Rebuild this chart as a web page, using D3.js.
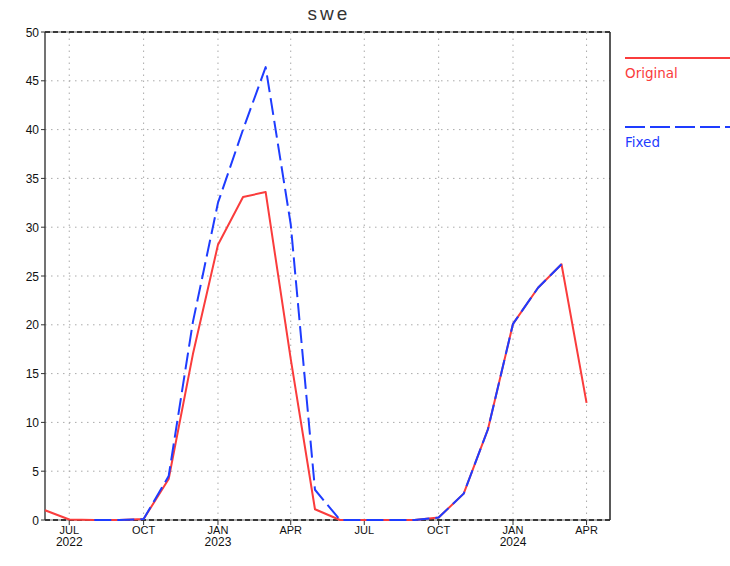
<!DOCTYPE html>
<html>
<head>
<meta charset="utf-8">
<script src="https://cdn.jsdelivr.net/npm/d3@7"></script>
<style>
  body { margin: 0; background: #fff; }
  svg { display: block; }
</style>
</head>
<body>
<div id="chart"></div>
<script>
// monthly values, Jun 2022 .. Apr 2024
const months = ["2022-06", "2022-07", "2022-08", "2022-09", "2022-10", "2022-11", "2022-12",
    "2023-01", "2023-02", "2023-03", "2023-04", "2023-05", "2023-06", "2023-07", "2023-08",
    "2023-09", "2023-10", "2023-11", "2023-12", "2024-01", "2024-02", "2024-03", "2024-04"];
const original = [1.0, 0.05, 0, 0, 0.1, 4.2, 17.0, 28.2, 33.1, 33.6, 16.5, 1.1, 0,
    0, 0, 0, 0.25, 2.7, 9.3, 20.1, 23.8, 26.2, 12.0];
const fixed = [null, null, 0, 0, 0.1, 4.5, 20.3, 32.5, 40.0, 46.4, 30.3, 3.1, 0,
    0, 0, 0, 0.25, 2.7, 9.3, 20.1, 23.8, 26.2, null];
const yTicks = [0, 5, 10, 15, 20, 25, 30, 35, 40, 45, 50];
const seriesNames = ["Original", "Fixed"];
const seriesColors = ["#fa3c3c", "#1e3cff"];

const width = 730, height = 566;
const margin = {top: 32, right: 120, bottom: 46, left: 45};

const parse = d3.utcParse("%Y-%m");
const dates = months.map(parse);

const svg = d3.select("#chart")
    .append("svg")
    .attr("width", width)
    .attr("height", height)
    .style("font-family", "'Liberation Sans', Arial, sans-serif")

const x = d3.scaleUtc()
    .domain([parse("2022-06"), new Date(Date.UTC(2024, 3, 30))])
    .range([margin.left, width - margin.right])

const y = d3.scaleLinear()
    .domain([0, 50])
    .range([height - margin.bottom, margin.top])

const quarters = d3.utcMonth.every(3).range(x.domain()[0], x.domain()[1]);

// grid
svg.append("g")
    .selectAll("line")
    .data(yTicks.slice(1, -1))
    .join("line")
    .attr("x1", x.range()[0])
    .attr("x2", x.range()[1])
    .attr("y1", d => y(d))
    .attr("y2", d => y(d))
    .attr("stroke", "#aaa")
    .attr("stroke-width", 1)
    .attr("stroke-dasharray", "1.5,4.5")

svg.append("g")
    .selectAll("line")
    .data(quarters)
    .join("line")
    .attr("x1", d => x(d))
    .attr("x2", d => x(d))
    .attr("y1", y(0))
    .attr("y2", y(50))
    .attr("stroke", "#aaa")
    .attr("stroke-width", 1)
    .attr("stroke-dasharray", "1.5,4.5")

// frame
const frame = svg.append("g");
frame.append("line")
    .attr("x1", x.range()[0]).attr("x2", x.range()[0])
    .attr("y1", y(0)).attr("y2", y(50))
    .attr("stroke", "#444").attr("stroke-width", 1.5)
frame.append("line")
    .attr("x1", x.range()[1]).attr("x2", x.range()[1])
    .attr("y1", y(0)).attr("y2", y(50))
    .attr("stroke", "#222").attr("stroke-width", 1.5)
frame.selectAll("line.hz")
    .data([0, 50])
    .join("line")
    .classed("hz", true)
    .attr("x1", x.range()[0]).attr("x2", x.range()[1])
    .attr("y1", d => y(d)).attr("y2", d => y(d))
    .attr("stroke", "#999").attr("stroke-width", 1.5)
frame.selectAll("line.hzd")
    .data([0, 50])
    .join("line")
    .classed("hzd", true)
    .attr("x1", x.range()[0]).attr("x2", x.range()[1])
    .attr("y1", d => y(d)).attr("y2", d => y(d))
    .attr("stroke", "#111").attr("stroke-width", 1.5)
    .attr("stroke-dasharray", "5,3")

// y axis ticks + labels
const yAxis = svg.append("g");
yAxis.selectAll("line")
    .data(yTicks)
    .join("line")
    .attr("x1", margin.left - 4)
    .attr("x2", margin.left)
    .attr("y1", d => y(d))
    .attr("y2", d => y(d))
    .attr("stroke", "#333")
yAxis.selectAll("text")
    .data(yTicks)
    .join("text")
    .attr("x", margin.left - 6)
    .attr("y", d => y(d) + 4.5)
    .attr("text-anchor", "end")
    .style("font-size", "12px")
    .attr("fill", "#111")
    .text(d => d)

// x axis ticks + labels
const xAxis = svg.append("g");
xAxis.selectAll("line")
    .data(quarters)
    .join("line")
    .attr("x1", d => x(d))
    .attr("x2", d => x(d))
    .attr("y1", y(0))
    .attr("y2", y(0) + 5)
    .attr("stroke", "#333")
xAxis.selectAll("text.mon")
    .data(quarters)
    .join("text")
    .classed("mon", true)
    .attr("x", d => x(d))
    .attr("y", y(0) + 14)
    .attr("text-anchor", "middle")
    .style("font-size", "11px")
    .attr("fill", "#111")
    .text(d => d3.utcFormat("%b")(d).toUpperCase())
xAxis.selectAll("text.yr")
    .data(quarters.filter((d, i) => i == 0 || d.getUTCMonth() == 0))
    .join("text")
    .classed("yr", true)
    .attr("x", d => x(d))
    .attr("y", y(0) + 26)
    .attr("text-anchor", "middle")
    .style("font-size", "12px")
    .attr("fill", "#111")
    .text(d => d3.utcFormat("%Y")(d))

// lines
const line = d3.line()
    .defined(d => d[1] != null)
    .x(d => x(d[0]))
    .y(d => y(d[1]))

svg.append("path")
    .datum(dates.map((d, i) => [d, original[i]]))
    .attr("d", line)
    .attr("fill", "none")
    .attr("stroke", seriesColors[0])
    .attr("stroke-width", 2)
    .attr("stroke-linejoin", "round")

svg.append("path")
    .datum(dates.map((d, i) => [d, fixed[i]]))
    .attr("d", line)
    .attr("fill", "none")
    .attr("stroke", seriesColors[1])
    .attr("stroke-width", 2)
    .attr("stroke-dasharray", "17,6")
    .attr("stroke-linejoin", "round")

// title
svg.append("text")
    .attr("x", 329)
    .attr("y", 20)
    .attr("text-anchor", "middle")
    .style("font-size", "19px")
    .style("letter-spacing", "3px")
    .attr("fill", "#333")
    .text("swe")

// legend
const legend = svg.append("g")
    .selectAll("g")
    .data(seriesNames)
    .join("g")
    .attr("transform", (d, i) => `translate(625, ${58 + i * 69})`)
legend.append("line")
    .attr("x1", 0)
    .attr("x2", 105)
    .attr("stroke", (d, i) => seriesColors[i])
    .attr("stroke-width", 2)
    .attr("stroke-dasharray", (d, i) => i == 1 ? "20,5" : null)
legend.append("text")
    .attr("x", 0)
    .attr("y", 20)
    .style("font-family", "'DejaVu Sans', sans-serif")
    .style("font-size", "13.5px")
    .attr("fill", (d, i) => seriesColors[i])
    .text(d => d)
</script>
</body>
</html>
